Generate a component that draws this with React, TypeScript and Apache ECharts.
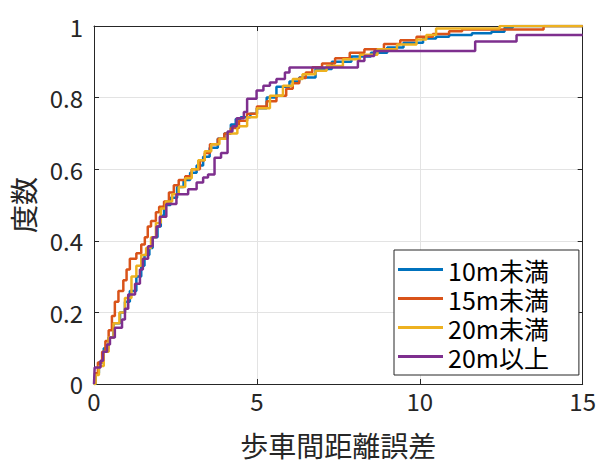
import React, { useEffect, useRef } from "react";
import * as echarts from "echarts";

const seriesNames = ["10m未満", "15m未満", "20m未満", "20m以上"];
const colors = ["#0072BD", "#D95319", "#EDB120", "#7E2F8E"];

const blueX = [0, 0.05, 0.15, 0.3, 0.45, 0.6, 0.8, 0.95, 1.1, 1.3, 1.45, 1.55, 1.7, 1.8, 1.95, 2.05, 2.15, 2.35, 2.55, 2.75, 2.95, 3.15, 3.35, 3.55, 3.8, 4.0, 4.2, 4.35, 4.5, 4.8, 5.0, 5.3, 5.6, 6.0, 6.3, 6.8, 7.3, 7.9, 8.5, 9.0, 9.5, 10.1, 10.5, 10.9, 11.6, 12.2, 12.6, 12.85, 15];
const blueY = [0, 0.03, 0.06, 0.1, 0.13, 0.17, 0.2, 0.23, 0.26, 0.3, 0.33, 0.36, 0.38, 0.41, 0.44, 0.47, 0.5, 0.52, 0.55, 0.57, 0.59, 0.61, 0.635, 0.66, 0.685, 0.7, 0.725, 0.74, 0.745, 0.755, 0.77, 0.8, 0.83, 0.845, 0.856, 0.88, 0.9, 0.915, 0.925, 0.94, 0.953, 0.965, 0.97, 0.975, 0.98, 0.984, 0.995, 1.0, 1.0];

const orangeX = [0, 0.03, 0.12, 0.25, 0.35, 0.45, 0.55, 0.64, 0.75, 0.9, 1.0, 1.1, 1.3, 1.45, 1.56, 1.65, 1.75, 1.9, 2.0, 2.15, 2.3, 2.45, 2.6, 2.8, 3.0, 3.25, 3.4, 3.56, 3.8, 4.0, 4.2, 4.45, 4.7, 5.0, 5.3, 5.6, 5.9, 6.1, 6.3, 6.5, 6.7, 7.0, 7.4, 7.85, 8.3, 8.9, 9.4, 9.9, 10.4, 10.9, 11.3, 13.8, 15];
const orangeY = [0, 0.03, 0.06, 0.09, 0.12, 0.15, 0.19, 0.23, 0.26, 0.29, 0.32, 0.35, 0.365, 0.39, 0.41, 0.44, 0.455, 0.48, 0.495, 0.51, 0.535, 0.555, 0.57, 0.58, 0.6, 0.625, 0.645, 0.67, 0.685, 0.7, 0.715, 0.735, 0.755, 0.775, 0.79, 0.805, 0.825, 0.84, 0.855, 0.87, 0.885, 0.895, 0.91, 0.925, 0.935, 0.95, 0.96, 0.97, 0.978, 0.985, 0.99, 1.0, 1.0];

const yellowX = [0, 0.05, 0.15, 0.3, 0.45, 0.6, 0.78, 0.95, 1.15, 1.3, 1.45, 1.6, 1.75, 1.9, 2.05, 2.2, 2.4, 2.6, 2.8, 3.0, 3.2, 3.4, 3.6, 3.85, 4.1, 4.4, 4.7, 5.0, 5.4, 5.8, 6.1, 6.4, 6.8, 7.14, 7.64, 8.16, 8.7, 9.3, 9.9, 10.2, 10.5, 12.45, 15];
const yellowY = [0, 0.025, 0.05, 0.09, 0.13, 0.17, 0.2, 0.24, 0.3, 0.33, 0.36, 0.38, 0.41, 0.45, 0.49, 0.51, 0.53, 0.55, 0.575, 0.6, 0.625, 0.65, 0.67, 0.685, 0.7, 0.72, 0.745, 0.77, 0.805, 0.833, 0.852, 0.865, 0.875, 0.888, 0.907, 0.92, 0.935, 0.948, 0.962, 0.975, 0.993, 1.0, 1.0];

const purpleX = [0, 0.02, 0.2, 0.28, 0.4, 0.49, 0.64, 0.86, 0.95, 1.05, 1.26, 1.41, 1.5, 1.66, 1.8, 1.92, 2.02, 2.22, 2.53, 2.89, 3.15, 3.35, 3.5, 3.7, 3.9, 4.1, 4.25, 4.38, 4.6, 4.7, 4.99, 5.2, 5.4, 5.6, 5.86, 6.0, 8.1, 8.3, 8.6, 11.7, 12.97, 15];
const purpleY = [0, 0.046, 0.065, 0.09, 0.11, 0.13, 0.157, 0.18, 0.21, 0.25, 0.28, 0.32, 0.35, 0.385, 0.41, 0.44, 0.467, 0.503, 0.53, 0.544, 0.563, 0.577, 0.585, 0.632, 0.645, 0.705, 0.72, 0.742, 0.76, 0.797, 0.82, 0.833, 0.842, 0.852, 0.87, 0.884, 0.902, 0.916, 0.93, 0.957, 0.975, 0.975];

const xTicks = [0, 5, 10, 15];
const yTicks = [0, 0.2, 0.4, 0.6, 0.8, 1];

const FONT = "Noto Sans CJK JP";
const TXT = "#262626";

function pairs(xs: number[], ys: number[]) {
  return xs.map((x, i) => [x, ys[i]]);
}

export default function App() {
  const ref = useRef<HTMLDivElement>(null);
  useEffect(() => {
    if (!ref.current) return;
    const chart = echarts.init(ref.current, null, { renderer: "svg" });
    const data = [
      pairs(blueX, blueY),
      pairs(orangeX, orangeY),
      pairs(yellowX, yellowY),
      pairs(purpleX, purpleY),
    ];
    const axisCommon = {
      type: "value" as const,
      axisLine: { show: true, onZero: false, lineStyle: { color: TXT, width: 1 } },
      axisTick: { show: true, inside: true, length: 5, lineStyle: { color: TXT } },
    };
    chart.setOption({
      animation: false,
      backgroundColor: "#ffffff",
      textStyle: { fontFamily: FONT },
      grid: { left: 94, right: 16, top: 26, bottom: 74, containLabel: false },
      xAxis: [
        {
          ...axisCommon,
          position: "bottom",
          min: 0,
          max: 15,
          interval: 5,
          axisLabel: {
            color: TXT,
            fontSize: 24,
            fontFamily: FONT,
            margin: 5,
            formatter: (v: number) => {
              const s = xTicks.find((t) => Math.abs(t - v) < 1e-9);
              return s === undefined ? "" : String(s);
            },
          },
          splitLine: { show: true, lineStyle: { color: "#e3e3e3", width: 1 } },
          name: "歩車間距離誤差",
          nameLocation: "middle",
          nameGap: 47,
          nameTextStyle: { color: TXT, fontSize: 28, fontFamily: FONT },
        },
        {
          ...axisCommon,
          position: "top",
          min: 0,
          max: 15,
          interval: 5,
          axisLabel: { show: false },
          splitLine: { show: false },
        },
      ],
      yAxis: [
        {
          ...axisCommon,
          position: "left",
          min: 0,
          max: 1,
          interval: 0.2,
          axisLabel: {
            color: TXT,
            fontSize: 24,
            fontFamily: FONT,
            margin: 11,
            formatter: (v: number) => {
              const s = yTicks.find((t) => Math.abs(t - v) < 1e-9);
              return s === undefined ? "" : String(+s.toFixed(1));
            },
          },
          splitLine: { show: true, lineStyle: { color: "#e3e3e3", width: 1 } },
          name: "度数",
          nameLocation: "middle",
          nameGap: 57,
          nameTextStyle: { color: TXT, fontSize: 28, fontFamily: FONT },
        },
        {
          ...axisCommon,
          position: "right",
          min: 0,
          max: 1,
          interval: 0.2,
          axisLabel: { show: false },
          splitLine: { show: false },
        },
      ],
      legend: {
        orient: "vertical",
        left: 394,
        top: 250,
        icon: "rect",
        itemWidth: 45,
        itemHeight: 3,
        itemGap: 4,
        padding: [7, 30, 6, 4],
        borderColor: TXT,
        borderWidth: 1,
        borderRadius: 0,
        backgroundColor: "#ffffff",
        textStyle: { color: "#000", fontSize: 25, lineHeight: 25, fontFamily: FONT },
        data: seriesNames,
      },
      series: seriesNames.map((name, i) => ({
        name,
        type: "line",
        step: "end",
        data: data[i],
        xAxisIndex: 0,
        yAxisIndex: 0,
        showSymbol: false,
        symbol: "none",
        color: colors[i],
        itemStyle: { color: colors[i] },
        lineStyle: { color: colors[i], width: 2.5 },
        z: 2 + i,
      })),
    });
    return () => chart.dispose();
  }, []);
  return <div ref={ref} style={{ width: 599, height: 464, position: "absolute", left: 0, top: 0 }} />;
}
